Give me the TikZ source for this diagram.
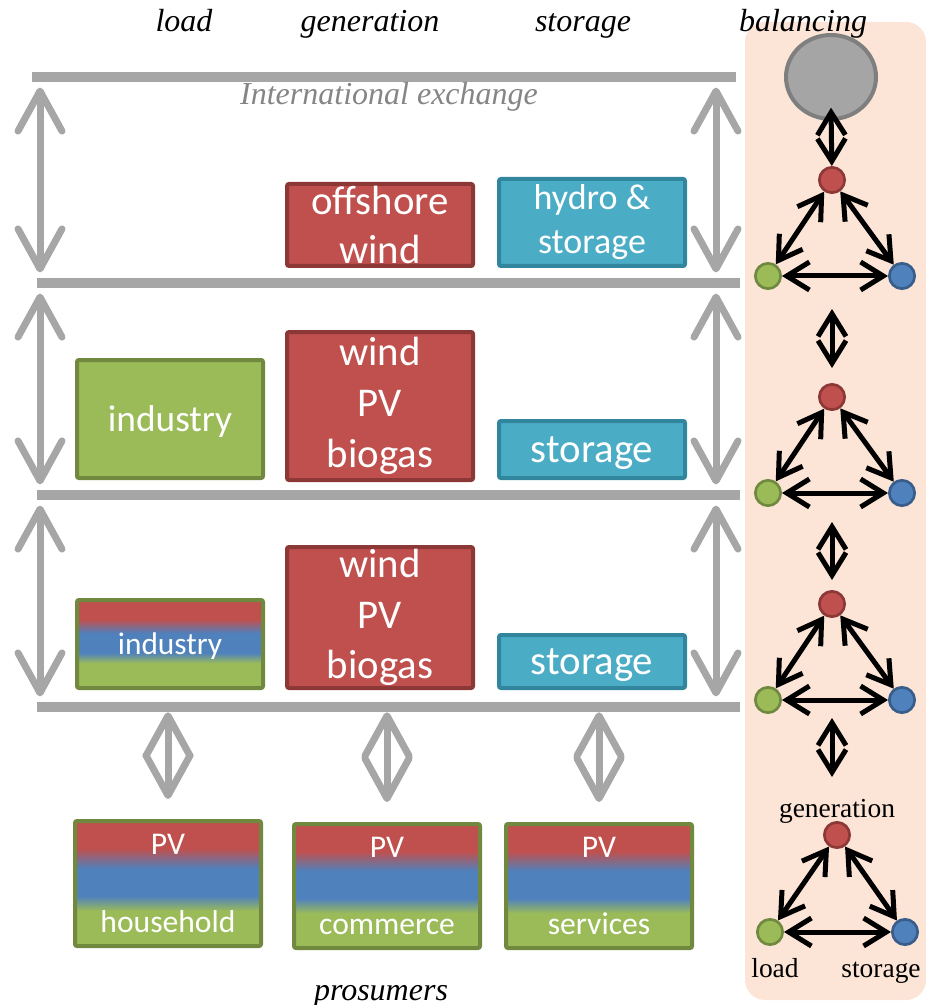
\documentclass[tikz,border=0pt]{standalone}
\usepackage{fontspec}
\setmainfont{Liberation Serif}
\newfontfamily\boxfont{Carlito}
\usepackage{xcolor}
\usepackage{tikz}
\usetikzlibrary{positioning, arrows.meta, shapes.geometric}

\definecolor{windred}{HTML}{C0504D}
\definecolor{windredline}{HTML}{8C3836}
\definecolor{storeblue}{HTML}{4BACC6}
\definecolor{storeblueline}{HTML}{31859C}
\definecolor{loadgreen}{HTML}{9BBB59}
\definecolor{loadgreenline}{HTML}{71893F}
\definecolor{mixblue}{HTML}{4F81BD}
\definecolor{mixblueline}{HTML}{385D8A}
\definecolor{bargray}{HTML}{A6A6A6}
\definecolor{gridgray}{HTML}{A5A5A5}
\definecolor{gridline}{HTML}{7F7F7F}
\definecolor{textgray}{HTML}{858585}
\definecolor{panelpeach}{HTML}{FCE4D6}

\pgfdeclareverticalshading{prosumer}{100bp}{color(0bp)=(loadgreen); color(39bp)=(loadgreen); color(45bp)=(mixblue); color(56bp)=(mixblue); color(64bp)=(windred); color(100bp)=(windred)}

\begin{document}
\begin{tikzpicture}[
    x=0.75pt, y=-0.75pt,
    head/.style={anchor=base, font=\fontsize{24pt}{28pt}\selectfont\itshape},
    tag/.style={anchor=base, font=\fontsize{20.6pt}{24pt}\selectfont},
    bar/.style={rectangle, fill=bargray, minimum height=7.5pt, inner sep=0pt},
    box/.style={rectangle, rounded corners=1.5pt, line width=3pt, minimum width=139.5pt, inner sep=0pt, align=center, text=white},
    genbox/.style={box, fill=windred, draw=windredline},
    storebox/.style={box, fill=storeblue, draw=storeblueline},
    loadbox/.style={box, fill=loadgreen, draw=loadgreenline},
    mixbox/.style={box, shade, shading=prosumer, draw=loadgreenline},
    flow/.style={{Straight Barb[round, length=30pt, width=33pt]}-{Straight Barb[round, length=30pt, width=33pt]}, draw=bargray, line width=5.25pt, line cap=round, shorten <=4pt, shorten >=4pt},
    link/.style={{Straight Barb[length=17pt, width=21pt]}-{Straight Barb[length=17pt, width=21pt]}, line width=3.75pt},
    dot/.style={circle, line width=2pt, minimum size=19pt, inner sep=0pt},
    gen/.style={dot, fill=windred, draw=windredline},
    ld/.style={dot, fill=loadgreen, draw=loadgreenline},
    st/.style={dot, fill=mixblue, draw=mixblueline}
]
\useasboundingbox (0,0) rectangle (926,1005);

\fill[panelpeach, rounded corners=15pt] (745,22) rectangle (926,1000);

\node[head] (hload) at (184,32) {load};
\node[head] (hgen) at (370,32) {generation};
\node[head] (hstore) at (583,32) {storage};
\node[head] (hbal) at (803,32) {balancing};

\node[bar, minimum width=528pt] (bar1) at (384,77) {};
\node[bar, minimum width=527.25pt] (bar2) at (388.5,283) {};
\node[bar, minimum width=527.25pt] (bar3) at (388.5,495) {};
\node[bar, minimum width=527.25pt] (bar4) at (388.5,707) {};

\node[head, text=textgray] (intl) at (389,105) {International exchange};

\node[genbox, minimum height=61.5pt, font=\boxfont\fontsize{30.6pt}{36.75pt}\selectfont] (offwind) at (380,225) {offshore\\wind};
\node[storebox, minimum height=65.25pt, font=\boxfont\fontsize{27pt}{33pt}\selectfont] (hydro) at (592,222.5) {hydro \&\\storage};

\node[loadbox, minimum height=88.5pt, text depth=0pt, font=\boxfont\fontsize{28pt}{33pt}\selectfont] (ind2) at (170,419) {industry};
\node[genbox, minimum height=111pt, font=\boxfont\fontsize{30.6pt}{38pt}\selectfont] (gen2) at (380,406) {wind\\PV\\biogas};
\node[storebox, minimum height=42.75pt, text depth=0pt, font=\boxfont\fontsize{30.6pt}{36pt}\selectfont] (store2) at (592,449.5) {storage};

\node[mixbox, minimum height=66pt, text depth=0pt, font=\boxfont\fontsize{23.5pt}{28pt}\selectfont] (ind3) at (170,644) {industry};
\node[genbox, minimum height=105.75pt, font=\boxfont\fontsize{30.6pt}{38pt}\selectfont] (gen3) at (380,617.5) {wind\\PV\\biogas};
\node[storebox, minimum height=39.75pt, text depth=0pt, font=\boxfont\fontsize{30.6pt}{36pt}\selectfont] (store3) at (592,661.5) {storage};

\node[mixbox, minimum height=93.75pt, font=\boxfont\fontsize{23.7pt}{28.4pt}\selectfont] (house) at (168,883.5) {PV\\[29.6pt]household};
\node[mixbox, minimum height=93pt, font=\boxfont\fontsize{23.7pt}{28.4pt}\selectfont] (commerce) at (387,886) {PV\\[29.6pt]commerce};
\node[mixbox, minimum height=93pt, font=\boxfont\fontsize{23.7pt}{28.4pt}\selectfont] (services) at (599,886) {PV\\[29.6pt]services};

\node[head] (prosum) at (381,1000) {prosumers};

\coordinate (west) at (40,0);
\coordinate (east) at (716,0);

\draw[flow] (bar1.south -| west) -- (bar2.north -| west);
\draw[flow] (bar2.south -| west) -- (bar3.north -| west);
\draw[flow] (bar3.south -| west) -- (bar4.north -| west);
\draw[flow] (bar1.south -| east) -- (bar2.north -| east);
\draw[flow] (bar2.south -| east) -- (bar3.north -| east);
\draw[flow] (bar3.south -| east) -- (bar4.north -| east);

\draw[flow, shorten <=0pt, shorten >=15pt] (bar4.south -| house.north) -- (house.north);
\draw[flow, shorten <=0pt, shorten >=15pt] (bar4.south -| commerce.north) -- (commerce.north);
\draw[flow, shorten <=0pt, shorten >=15pt] (bar4.south -| services.north) -- (services.north);

\node[ellipse, fill=gridgray, draw=gridline, line width=3pt, minimum width=67.5pt, minimum height=63pt, inner sep=0pt] (grid) at (831,77) {};

\node[gen] (g1) at (832,180) {};
\node[ld] (l1) at (768,276) {};
\node[st] (s1) at (902,276) {};
\node[gen] (g2) at (832,397) {};
\node[ld] (l2) at (768,493) {};
\node[st] (s2) at (902,493) {};
\node[gen] (g3) at (832,604) {};
\node[ld] (l3) at (768,700) {};
\node[st] (s3) at (902,700) {};
\node[gen] (g4) at (837,835) {};
\node[ld] (l4) at (770,932) {};
\node[st] (s4) at (905,932) {};

\node[tag] (tgen) at (837,817) {generation};
\node[tag] (tload) at (775,977) {load};
\node[tag] (tstore) at (881,977) {storage};

\coordinate (up12) at (832,309);
\coordinate (dn12) at (832,368);
\coordinate (up23) at (832,522);
\coordinate (dn23) at (832,580);
\coordinate (up34) at (832,718);
\coordinate (dn34) at (832,777);

\draw[link] ([yshift=10pt]grid.south) -- (g1);
\draw[link] (up12) -- (dn12);
\draw[link] (up23) -- (dn23);
\draw[link] (up34) -- (dn34);

\draw[link] (g1) -- (l1);
\draw[link] (g1) -- (s1);
\draw[link] (l1) -- (s1);
\draw[link] (g2) -- (l2);
\draw[link] (g2) -- (s2);
\draw[link] (l2) -- (s2);
\draw[link] (g3) -- (l3);
\draw[link] (g3) -- (s3);
\draw[link] (l3) -- (s3);
\draw[link] (g4) -- (l4);
\draw[link] (g4) -- (s4);
\draw[link] (l4) -- (s4);

\end{tikzpicture}
\end{document}
